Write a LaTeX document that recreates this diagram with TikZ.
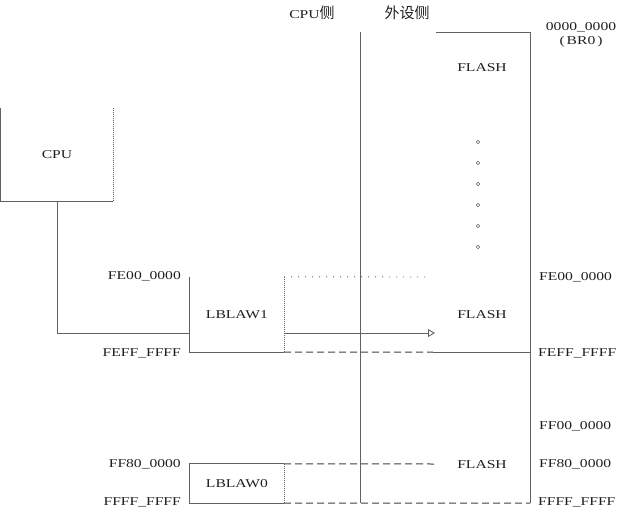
\documentclass[tikz,border=0pt]{standalone}
\usepackage{fontspec}
\setmainfont{Liberation Serif}[FakeStretch=1.3]
\newfontfamily\cjk{Noto Sans CJK SC}
\usepackage{tikz}
\usetikzlibrary{arrows}
\definecolor{linegray}{gray}{0.38}
\definecolor{textgray}{gray}{0.12}
\tikzstyle{blk} =
[rectangle, minimum width = 94pt, inner sep = 0pt, text centered,
text = textgray]
\tikzstyle{addr} =
[rectangle, inner sep = 0pt, text = textgray]
\tikzstyle{ellip} =
[circle, minimum size = 3.5pt, inner sep = 0pt, draw = linegray,
line width = 0.5pt]
\tikzstyle{solidedge} = [draw = linegray, line width = 0.9pt]
\tikzstyle{fineedge} =
[draw = linegray, line width = 0.9pt, dash pattern = on 1pt off 1pt]
\tikzstyle{sparse} =
[draw = linegray, line width = 0.9pt, dash pattern = on 1pt off 6pt]
\tikzstyle{dashedge} =
[draw = black!75, line width = 1pt, dash pattern = on 7pt off 4pt]
\tikzstyle{line} = [draw = linegray, line width = 0.9pt, -open triangle 60]
\newcommand{\zh}[1]{{\cjk\fontsize{15}{17}\selectfont #1}}

\begin{document}
\begin{tikzpicture}[x = 1pt, y = -1pt, node distance = 21pt,
  font = \fontsize{12}{14}\selectfont]
  \useasboundingbox (0,0) rectangle (622,512);
  % headings
  \node [addr] (cpuside) at (312,13) {CPU\zh{侧}};
  \node [addr] (ioside) at (407,13) {\zh{外设侧}};
  %
  % CPU side nodes
  \node [blk, minimum width = 112pt, minimum height = 93pt] (cpu)
   at (57,154.5) {CPU};
  \node [blk, minimum height = 75pt] (lb1) at (237,314.5) {LBLAW1};
  \node [blk, minimum height = 39pt] (lb0) at (237,483.5) {LBLAW0};
  \node [addr, anchor = east] (lfe0) at (181,276) {FE00\_0000};
  \node [addr, anchor = east] (lfef) at (181,353) {FEFF\_FFFF};
  \node [addr, anchor = east] (lff8) at (181,464) {FF80\_0000};
  \node [addr, anchor = east] (lfff) at (181,502) {FFFF\_FFFF};
  % CPU side edges
  \path [solidedge] (cpu.north west) -- (cpu.south west) -- (cpu.south east);
  \path [fineedge] (cpu.south east) -- (cpu.north east);
  \path [solidedge] (lb1.north west) -- (lb1.south west) -- (lb1.south east);
  \path [fineedge] (lb1.south east) -- (lb1.north east);
  \path [solidedge] (lb0.north east) -- (lb0.north west) -- (lb0.south west)
   -- (lb0.south east);
  \path [fineedge] (lb0.south east) -- (lb0.north east);
  %
  % local bus side
  \coordinate (septop) at (360,32);
  \coordinate (sepbot) at (360,503);
  \coordinate (fltop) at (436,32);
  \coordinate (ne) at (530,32);
  \coordinate (se) at (530,503);
  \path [solidedge] (septop) -- (sepbot);
  \path [solidedge] (fltop) -- (ne) -- (se);
  \node [addr] (fl0) at (482,68) {FLASH};
  \node [ellip] (d1) at (478,142) {};
  \node [ellip, below of=d1] (d2) {};
  \node [ellip, below of=d2] (d3) {};
  \node [ellip, below of=d3] (d4) {};
  \node [ellip, below of=d4] (d5) {};
  \node [ellip, below of=d5] (d6) {};
  \node [addr] (fl1) at (482,315) {FLASH};
  \node [addr] (fl2) at (482,465) {FLASH};
  \node [addr] (r000) at (581,27) {0000\_0000};
  \node [addr, below of=r000, node distance = 15pt] (br0) {(\,BR0\,)};
  \node [addr, anchor = west] (rfe0) at (539,277) {FE00\_0000};
  \node [addr, anchor = west] (rfef) at (538,353) {FEFF\_FFFF};
  \node [addr, anchor = west] (rff0) at (539,426) {FF00\_0000};
  \node [addr, anchor = west] (rff8) at (539,464) {FF80\_0000};
  \node [addr, anchor = west] (rfff) at (538,502) {FFFF\_FFFF};
  %
  % window edges
  \coordinate (w1top) at (428,277);
  \coordinate (w1brk) at (433,352);
  \coordinate (w0top) at (435,464);
  \path [sparse] (lb1.north east) -- (w1top);
  \path [dashedge] (lb1.south east) -- (w1brk);
  \path [solidedge] (w1brk) -- (ne |- w1brk);
  \path [dashedge] (lb0.north east) -- (w0top);
  \path [dashedge] (lb0.south east) -- (se);
  % bus from CPU
  \coordinate (busin) at (lb1.west |- 0,333);
  \coordinate (busout) at (lb1.east |- 0,333);
  \coordinate (bustip) at (435,333);
  \path [solidedge] (cpu.south) |- (busin);
  \path [line] (busout) -- (bustip);
\end{tikzpicture}
\end{document}
